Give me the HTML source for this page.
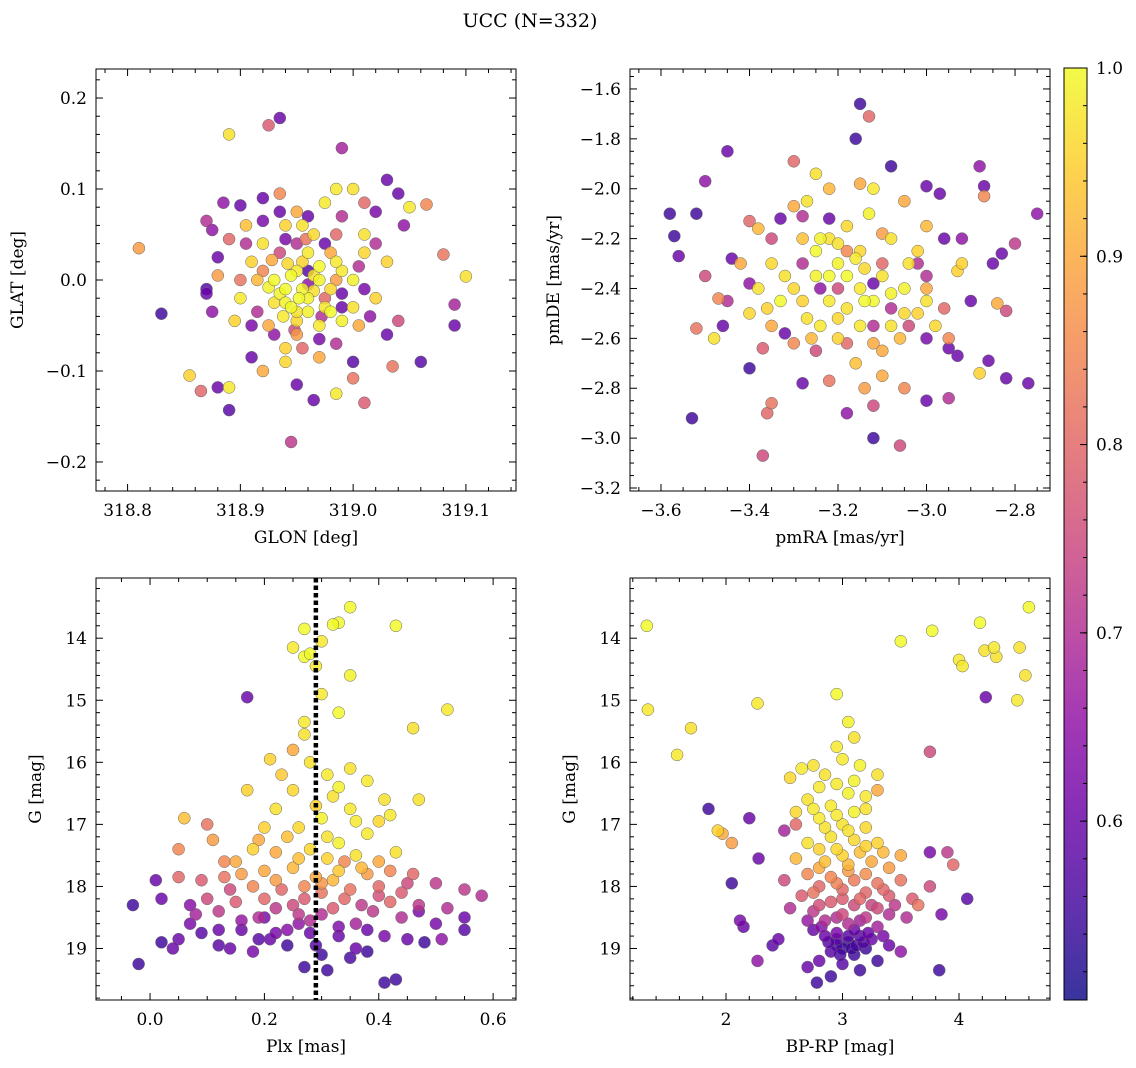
<!DOCTYPE html>
<html><head><meta charset="utf-8">
<style>
html,body{margin:0;padding:0;background:#fff;}
svg{display:block;font-family:"DejaVu Serif","Liberation Serif",serif;}
</style></head>
<body>
<svg id="fig" width="1136" height="1068" viewBox="0 0 1136 1068" xmlns="http://www.w3.org/2000/svg">
<text x="530" y="27" text-anchor="middle" font-size="19">UCC (N=332)</text>
</svg>
<script>
// ---- data: [x, y, membership probability] ----
const p1Points=[[318.81,0.035,0.88],[318.83,-0.037,0.55],[318.89,0.16,0.97],[318.925,0.17,0.78],[318.935,0.178,0.6],[318.99,0.145,0.68],[318.945,-0.178,0.72],[318.89,-0.143,0.58],[318.865,-0.122,0.8],[318.855,-0.105,0.95],[318.88,-0.118,0.6],[318.89,-0.118,0.98],[318.965,-0.132,0.6],[318.985,-0.125,0.98],[319.01,-0.135,0.78],[319.0,-0.108,0.82],[319.0,-0.09,0.58],[319.06,-0.09,0.58],[319.1,0.004,0.97],[319.09,-0.027,0.68],[319.09,-0.05,0.6],[319.08,0.028,0.82],[319.065,0.083,0.85],[319.04,0.095,0.6],[319.03,0.11,0.6],[319.05,0.08,0.98],[319.045,0.06,0.65],[318.87,0.065,0.7],[318.88,0.025,0.6],[318.87,-0.01,0.58],[318.87,-0.015,0.6],[318.875,-0.035,0.65],[318.875,0.055,0.65],[318.885,0.085,0.65],[318.9,0.082,0.6],[318.92,0.09,0.6],[318.935,0.095,0.85],[318.95,0.075,0.9],[318.96,0.07,0.6],[318.985,0.1,0.98],[319.0,0.1,0.97],[319.01,0.085,0.8],[319.02,0.075,0.62],[318.975,0.085,0.98],[318.91,-0.085,0.6],[318.92,-0.1,0.9],[318.95,-0.115,0.6],[318.94,-0.09,0.96],[318.97,-0.085,0.9],[318.985,-0.07,0.7],[319.03,-0.06,0.6],[319.035,-0.095,0.82],[319.04,-0.045,0.75],[319.02,-0.02,0.95],[319.03,0.02,0.95],[319.02,0.04,0.7],
[318.915,-0.035,0.7],[318.955,-0.075,0.8],[318.96,-0.005,0.65],[318.99,-0.015,0.6],[318.94,0.045,0.62],[319.005,0.015,0.7],[318.92,0.01,0.85],[318.95,-0.06,0.88],[318.975,-0.02,0.8],[318.985,0.05,0.8],[318.935,0.03,0.75],[318.9,0.0,0.82],
[318.93,0.0,1],[318.94,-0.01,1],[318.95,0.01,0.98],[318.96,-0.02,0.99],[318.945,-0.03,1],[318.93,-0.025,0.97],[318.955,0.02,0.95],[318.96,0.03,0.98],[318.97,0.0,0.99],[318.98,-0.01,0.96],[318.99,0.01,0.98],[319.0,-0.03,0.97],[318.99,-0.045,0.99],[318.97,-0.05,0.98],[318.95,-0.045,0.96],[318.92,0.04,0.97],[318.91,0.02,0.95],[318.9,-0.02,0.98],[318.905,0.06,0.93],[318.94,0.06,0.95],[318.965,0.05,0.96],[319.01,0.05,0.97],[319.01,0.03,0.96],[319.0,0.0,0.99],[318.98,0.03,0.9],[318.925,-0.05,0.9],[318.97,0.015,1],[318.945,0.005,1],[318.935,-0.015,0.99],[318.96,-0.035,0.99],[318.98,-0.035,1]];
const p1Extra=[[318.925,-0.008,0.99],[318.938,-0.04,0.98],[318.952,-0.02,1],[318.965,-0.012,0.97],[318.975,-0.03,0.98],[318.942,0.018,0.96],[318.928,0.022,0.9],[318.958,0.045,0.82],[318.948,-0.055,0.75],[318.972,-0.04,0.7],[318.985,0.0,0.88],[318.915,0.0,0.92],[318.93,-0.06,0.65],[318.91,-0.05,0.62],[318.96,0.01,0.58],[318.99,-0.03,0.6],[319.01,-0.01,0.62],[318.905,0.04,0.7],[318.92,0.065,0.62],[318.89,0.045,0.8],[318.895,-0.045,0.95],[318.88,0.005,0.88],[318.95,0.04,0.7],[318.975,0.04,0.6],[319.005,-0.05,0.9],[319.015,-0.04,0.65],[318.94,-0.075,0.95],[318.97,-0.065,0.62],[318.955,0.06,0.97],[318.99,0.07,0.7],[318.935,0.075,0.6],[318.955,-0.01,0.99],[318.965,0.005,0.97],[318.985,0.02,0.98],[318.94,-0.025,0.99],[318.95,-0.035,0.97]];
const p2Points=[[-3.58,-2.1,0.55],[-3.57,-2.19,0.55],[-3.52,-2.1,0.55],[-3.56,-2.27,0.6],[-3.5,-1.97,0.65],[-3.45,-1.85,0.6],[-3.5,-2.35,0.75],[-3.52,-2.56,0.82],[-3.53,-2.92,0.55],[-3.48,-2.6,0.97],[-3.46,-2.55,0.6],[-3.47,-2.44,0.85],[-3.4,-2.72,0.55],[-3.37,-2.64,0.78],[-3.36,-2.9,0.8],[-3.35,-2.86,0.82],[-3.37,-3.07,0.75],[-3.3,-1.89,0.8],[-3.25,-1.94,0.97],[-3.15,-1.66,0.55],[-3.13,-1.71,0.8],[-3.16,-1.8,0.55],[-3.08,-1.91,0.55],[-3.12,-3.0,0.55],[-3.06,-3.03,0.75],[-3.12,-2.87,0.75],[-3.18,-2.9,0.65],[-3.28,-2.78,0.6],[-3.22,-2.77,0.82],[-3.0,-2.85,0.6],[-2.95,-2.84,0.7],[-2.88,-2.74,0.95],[-2.86,-2.69,0.6],[-2.82,-2.76,0.6],[-2.77,-2.78,0.6],[-2.82,-2.49,0.75],[-2.84,-2.46,0.9],[-2.85,-2.3,0.6],[-2.83,-2.26,0.6],[-2.8,-2.22,0.72],[-2.75,-2.1,0.65],[-2.87,-1.99,0.6],[-2.88,-1.91,0.65],[-2.87,-2.03,0.85],[-2.97,-2.02,0.6],[-3.0,-1.99,0.6],[-2.95,-2.64,0.6],[-2.93,-2.67,0.6],[-2.93,-2.33,0.95],[-2.92,-2.2,0.65],[-2.96,-2.2,0.6],[-3.02,-2.3,0.7],[-3.04,-2.55,0.75],[-3.44,-2.28,0.6],[-3.42,-2.3,0.9],[-3.4,-2.13,0.8],[-3.38,-2.16,0.92],[-3.33,-2.12,0.6],[-3.3,-2.07,0.9],[-3.28,-2.11,0.7],[-3.27,-2.05,0.97],
[-3.18,-2.25,0.85],[-3.1,-2.3,0.8],[-3.2,-2.4,0.75],[-3.28,-2.3,0.7],[-3.0,-2.35,0.7],[-3.12,-2.55,0.7],[-3.25,-2.65,0.75],[-2.95,-2.6,0.85],[-2.9,-2.45,0.6],[-3.4,-2.38,0.65],[-3.45,-2.45,0.7],
[-3.25,-2.25,1],[-3.2,-2.3,0.99],[-3.18,-2.35,1],[-3.15,-2.4,0.98],[-3.12,-2.45,1],[-3.1,-2.35,0.97],[-3.22,-2.45,0.98],[-3.27,-2.52,0.97],[-3.3,-2.4,0.96],[-3.05,-2.4,0.99],[-3.05,-2.5,0.96],[-3.08,-2.55,0.97],[-3.15,-2.55,0.98],[-3.2,-2.6,0.95],[-3.1,-2.65,0.9],[-3.0,-2.45,0.97],[-2.98,-2.55,0.96],[-3.02,-2.25,0.95],[-3.08,-2.2,0.97],[-3.13,-2.1,0.99],[-3.18,-2.15,0.96],[-3.22,-2.2,0.97],[-3.25,-2.35,0.99],[-3.35,-2.3,0.96],[-3.38,-2.4,0.97],[-3.4,-2.5,0.96],[-3.35,-2.55,0.9],[-3.3,-2.62,0.85],[-3.16,-2.7,0.93],[-3.1,-2.75,0.9],[-3.05,-2.8,0.85],[-3.15,-1.98,0.9],[-3.22,-2.0,0.92],[-3.12,-2.0,0.98],[-3.05,-2.05,0.9],[-3.0,-2.15,0.92],[-2.92,-2.3,0.95],[-3.33,-2.45,1],[-3.14,-2.45,1]];
const p2Extra=[[-3.24,-2.2,0.99],[-3.2,-2.22,0.97],[-3.16,-2.28,0.98],[-3.22,-2.35,1],[-3.14,-2.32,0.96],[-3.08,-2.42,0.99],[-3.18,-2.48,0.97],[-3.24,-2.55,0.98],[-3.28,-2.45,0.95],[-3.32,-2.35,0.97],[-3.02,-2.5,0.95],[-3.06,-2.6,0.92],[-3.12,-2.62,0.9],[-3.2,-2.52,0.96],[-3.26,-2.6,0.92],[-3.36,-2.48,0.95],[-3.28,-2.2,0.93],[-3.1,-2.18,0.88],[-3.15,-2.25,0.96],[-3.04,-2.3,0.97],[-3.0,-2.4,0.9],[-2.96,-2.48,0.8],[-3.35,-2.2,0.75],[-3.18,-2.62,0.8],[-3.08,-2.48,0.7],[-3.24,-2.4,0.65],[-3.12,-2.38,0.6],[-3.32,-2.58,0.6],[-3.0,-2.6,0.62],[-3.14,-2.8,0.88],[-3.22,-2.12,0.6]];
const p3Points=[[-0.03,18.3,0.55],[-0.02,19.25,0.55],[0.01,17.9,0.6],[0.02,18.2,0.6],[0.02,18.9,0.55],[0.05,18.85,0.6],[0.07,18.6,0.62],[0.09,18.75,0.58],[0.12,18.95,0.58],[0.16,18.7,0.6],[0.18,19.05,0.62],[0.21,18.85,0.6],[0.24,18.95,0.55],[0.27,19.3,0.55],[0.3,19.1,0.55],[0.31,19.35,0.55],[0.33,18.8,0.6],[0.36,19.0,0.6],[0.38,19.05,0.55],[0.41,19.55,0.55],[0.43,19.5,0.55],[0.45,18.85,0.6],[0.48,18.9,0.55],[0.51,18.85,0.65],[0.55,18.7,0.58],[0.55,18.5,0.6],[0.17,14.95,0.6],[0.22,18.75,0.62],[0.28,18.75,0.6],[0.38,18.7,0.6],[0.14,19.0,0.6],[0.04,19.0,0.6],[0.47,18.4,0.62],[0.26,18.6,0.65],[0.2,18.5,0.62],
[0.05,17.85,0.8],[0.09,17.9,0.78],[0.13,17.85,0.82],[0.18,18.0,0.85],[0.22,17.9,0.88],[0.27,18.0,0.85],[0.3,17.95,0.87],[0.35,18.05,0.82],[0.4,18.0,0.8],[0.45,17.95,0.75],[0.5,17.95,0.72],[0.55,18.05,0.72],[0.58,18.15,0.7],[0.1,18.2,0.75],[0.15,18.25,0.78],[0.2,18.2,0.8],[0.25,18.3,0.75],[0.32,18.35,0.78],[0.37,18.3,0.72],[0.42,18.25,0.8],[0.47,18.3,0.72],[0.52,18.35,0.7],[0.12,18.4,0.72],[0.19,18.5,0.7],[0.28,18.55,0.7],[0.36,18.6,0.68],[0.44,18.5,0.7],[0.08,18.45,0.68],[0.3,18.1,0.82],[0.26,18.45,0.72],[0.34,17.6,0.85],[0.14,18.05,0.75],[0.4,18.15,0.76],
[0.27,13.85,1],[0.33,13.75,1],[0.35,13.5,1],[0.43,13.8,1],[0.32,13.78,1],[0.3,14.05,0.98],[0.27,14.3,1],[0.28,14.25,1],[0.29,14.45,0.98],[0.25,14.15,0.98],[0.35,14.6,0.99],[0.3,14.9,0.98],[0.33,15.2,1],[0.52,15.15,0.98],[0.46,15.45,0.97],[0.27,15.35,0.98],[0.27,15.55,0.97],[0.25,15.8,0.9],[0.21,15.95,0.95],[0.28,16.0,0.97],[0.31,16.2,0.98],[0.35,16.1,0.97],[0.38,16.3,0.98],[0.33,16.4,0.99],[0.41,16.6,0.97],[0.25,16.45,0.96],[0.17,16.45,0.95],[0.22,16.75,0.97],[0.29,16.7,0.95],[0.35,16.75,0.98],[0.42,16.85,0.98],[0.47,16.6,0.97],[0.3,16.9,0.99],[0.36,16.95,0.98],[0.26,17.05,0.96],[0.2,17.05,0.95],[0.24,17.2,0.93],[0.31,17.2,0.97],[0.38,17.15,0.98],[0.33,17.3,0.99],[0.43,17.45,0.97],[0.36,17.5,0.97],[0.28,17.4,0.96],[0.22,17.45,0.9],[0.15,17.6,0.9],[0.18,17.4,0.95],[0.11,17.25,0.88],[0.06,16.9,0.93],[0.05,17.4,0.85],[0.1,17.0,0.82],[0.4,17.6,0.9],[0.46,17.8,0.8],[0.25,17.7,0.92],[0.33,17.75,0.94],[0.38,17.8,0.88]];
const p3Extra=[[0.16,17.8,0.88],[0.2,17.75,0.9],[0.23,18.05,0.8],[0.29,17.85,0.9],[0.32,17.9,0.92],[0.37,17.7,0.92],[0.42,17.75,0.85],[0.27,18.2,0.78],[0.34,18.2,0.8],[0.22,18.35,0.72],[0.3,18.45,0.7],[0.39,18.4,0.72],[0.16,18.55,0.66],[0.24,18.7,0.64],[0.33,18.65,0.63],[0.41,18.8,0.62],[0.12,18.7,0.6],[0.19,18.85,0.58],[0.29,18.95,0.58],[0.35,19.15,0.56],[0.07,18.3,0.64],[0.5,18.6,0.62],[0.31,17.55,0.95],[0.26,17.55,0.93],[0.19,17.25,0.9],[0.4,16.95,0.96],[0.32,16.55,0.97],[0.23,16.2,0.94],[0.13,17.6,0.85],[0.44,18.1,0.78]];
const p4Points=[[1.85,16.75,0.55],[2.05,17.95,0.55],[2.2,16.9,0.6],[2.28,17.55,0.6],[2.12,18.55,0.62],[2.15,18.65,0.6],[2.27,19.2,0.65],[2.4,18.95,0.58],[2.45,18.85,0.6],[2.5,17.1,0.68],[2.75,18.7,0.6],[2.85,18.8,0.6],[2.95,18.85,0.58],[3.05,18.9,0.55],[3.15,18.8,0.58],[3.25,18.85,0.6],[3.0,19.0,0.55],[2.9,19.05,0.58],[3.1,19.1,0.55],[3.2,19.0,0.55],[2.8,19.2,0.6],[3.0,19.25,0.58],[3.3,19.2,0.55],[2.7,19.3,0.6],[3.15,19.35,0.55],[2.9,19.45,0.55],[2.78,19.55,0.55],[3.75,17.45,0.62],[3.85,18.45,0.62],[4.07,18.2,0.58],[3.83,19.35,0.55],[3.5,19.05,0.65],[3.4,18.95,0.6],[2.95,18.75,0.62],[3.1,18.7,0.6],
[2.7,17.8,0.85],[2.9,17.85,0.85],[3.1,17.9,0.83],[3.3,17.95,0.82],[3.5,17.9,0.82],[2.8,18.0,0.8],[3.0,18.05,0.8],[3.2,18.1,0.8],[3.4,18.15,0.78],[2.65,18.15,0.78],[2.9,18.25,0.78],[3.1,18.3,0.75],[3.3,18.35,0.75],[3.6,18.2,0.78],[3.65,18.3,0.82],[3.9,17.45,0.72],[3.95,17.65,0.8],[3.75,18.0,0.75],[2.75,18.4,0.72],[3.0,18.45,0.75],[3.2,18.5,0.72],[3.4,18.45,0.7],[2.55,18.35,0.7],[2.85,18.55,0.7],[3.05,18.6,0.7],[3.3,18.65,0.68],[2.5,17.9,0.75],[3.55,18.5,0.7],
[1.32,13.8,1],[1.33,15.15,0.98],[1.58,15.88,0.98],[1.7,15.45,0.97],[2.27,15.05,0.98],[3.5,14.05,1],[3.77,13.88,1],[4.18,13.75,1],[4.6,13.5,1],[4.0,14.35,0.98],[4.03,14.45,0.98],[4.22,14.2,0.97],[4.3,14.15,0.98],[4.32,14.3,0.97],[4.52,14.15,0.97],[4.57,14.6,0.97],[4.5,15.0,0.98],[4.23,14.95,0.6],[3.75,15.83,0.75],[2.95,14.9,1],[3.05,15.35,0.99],[2.95,15.75,0.98],[3.1,15.6,0.97],[3.0,15.95,0.98],[2.85,16.2,0.97],[2.65,16.1,0.98],[2.55,16.25,0.96],[2.75,16.05,0.97],[3.15,16.05,0.99],[3.3,16.2,0.97],[2.8,16.4,0.98],[3.05,16.5,0.99],[3.2,16.55,0.98],[2.7,16.6,0.97],[2.9,16.7,0.98],[3.1,16.8,0.99],[3.3,16.45,0.9],[2.6,16.8,0.96],[2.8,16.9,0.98],[3.0,17.0,0.97],[3.2,17.05,0.96],[2.9,17.2,0.97],[3.1,17.25,0.96],[2.7,17.3,0.97],[3.3,17.3,0.95],[2.95,17.4,0.96],[3.15,17.45,0.93],[3.5,17.5,0.9],[2.85,17.6,0.93],[3.05,17.65,0.92],[3.25,17.6,0.9],[2.6,17.55,0.92],[3.4,17.7,0.88],[1.93,17.1,0.95],[1.97,17.15,0.9],[2.05,17.3,0.88],[2.6,17.0,0.8]];
const p4Extra=[[2.95,18.95,0.56],[3.05,18.8,0.58],[3.12,18.95,0.56],[2.88,18.9,0.58],[3.18,18.9,0.57],[3.08,19.0,0.55],[2.98,19.1,0.56],[3.22,18.75,0.6],[2.82,18.65,0.64],[3.35,18.8,0.62],[2.7,18.55,0.66],[3.15,18.55,0.68],[2.95,18.5,0.7],[3.25,18.3,0.74],[3.45,18.3,0.72],[2.8,18.3,0.76],[3.0,18.2,0.78],[3.15,18.2,0.8],[3.35,18.05,0.8],[2.75,18.1,0.82],[2.95,17.95,0.84],[3.2,17.8,0.86],[3.05,17.75,0.88],[2.8,17.7,0.9],[3.35,17.45,0.92],[3.0,17.5,0.95],[2.8,17.4,0.95],[3.2,17.35,0.95],[2.85,17.05,0.97],[3.05,17.1,0.97],[2.95,16.85,0.98],[3.2,16.75,0.97],[2.75,16.75,0.98],[2.95,16.35,0.98],[3.1,16.3,0.99]];
const plxLine=[0.29];
const cbarTicks=[0.6,0.7,0.8,0.9,1.0];
const cbarRange=[0.505,1.0];

const NS="http://www.w3.org/2000/svg";
const svg=document.getElementById('fig');
function el(tag,attrs,parent){const e=document.createElementNS(NS,tag);for(const k in attrs)e.setAttribute(k,attrs[k]);(parent||svg).appendChild(e);return e;}
const stops=[[0,'#0d0887'],[0.1,'#41049d'],[0.2,'#6a00a8'],[0.3,'#8f0da4'],[0.4,'#b12a90'],[0.5,'#cc4778'],[0.6,'#e16462'],[0.7,'#f2844b'],[0.8,'#fca636'],[0.9,'#fcce25'],[1,'#f0f921']];
function hx(c){return [1,3,5].map(i=>parseInt(c.substr(i,2),16));}
function plasma(t){t=Math.max(0,Math.min(1,t));for(let i=1;i<stops.length;i++){if(t<=stops[i][0]){const a=stops[i-1],b=stops[i];const f=(t-a[0])/(b[0]-a[0]);const ca=hx(a[1]),cb=hx(b[1]);return 'rgb('+ca.map((v,j)=>Math.round(v+(cb[j]-v)*f)).join(',')+')';}}return stops[stops.length-1][1];}
function fmt(v,d){const s=Math.abs(v).toFixed(d);return (v<-1e-9?'\u2212':'')+s;}

function panel(name,cfg,pts){
  const {x0,x1,y0,y1,xmin,xmax,ymin,ymax,xmaj,xmin_step,ymaj,ymin_step,xd,yd,xlabel,ylabel,invert}=cfg;
  const g=el('g',{});
  
  
  const sx=v=>x0+(v-xmin)/(xmax-xmin)*(x1-x0);
  const sy=invert?(v=>y0+(v-ymin)/(ymax-ymin)*(y1-y0)):(v=>y1-(v-ymin)/(ymax-ymin)*(y1-y0));
  const pg=el('g',{},g);
  pts.slice().sort((a,b)=>a[2]-b[2]).forEach(p=>{
    const c=el('circle',{cx:sx(p[0]).toFixed(1),cy:sy(p[1]).toFixed(1),r:6,fill:plasma((p[2]-cbarRange[0])/(cbarRange[1]-cbarRange[0])),'fill-opacity':0.82,stroke:'#666','stroke-width':0.5},pg);
    
    
  });
  if(cfg.vline!==undefined){
    const l=el('line',{x1:sx(cfg.vline),x2:sx(cfg.vline),y1:y0,y2:y1,stroke:'#000','stroke-width':4.5,'stroke-dasharray':'4.5,3'},g);
    
    
  }
  const fr=el('rect',{x:x0,y:y0,width:x1-x0,height:y1-y0,fill:'none',stroke:'#000','stroke-width':1},g);
  
  
  const tk=el('g',{stroke:'#000','stroke-width':1},g);
  const lo=Math.ceil(Math.min(xmin,xmax)/xmin_step-1e-6),hi=Math.floor(Math.max(xmin,xmax)/xmin_step+1e-6);
  for(let i=lo;i<=hi;i++){const v=i*xmin_step;const isMaj=Math.abs(v/xmaj-Math.round(v/xmaj))<1e-6;const L=isMaj?7:4;const X=sx(v);
    el('line',{x1:X,x2:X,y1:y1,y2:y1-L},tk);el('line',{x1:X,x2:X,y1:y0,y2:y0+L},tk);
    if(isMaj){const t=el('text',{x:X,y:y1+25,'text-anchor':'middle','font-size':17,stroke:'none'},g);t.textContent=fmt(v,xd);}}
  const ylo=Math.ceil(ymin/ymin_step-1e-6),yhi=Math.floor(ymax/ymin_step+1e-6);
  for(let i=ylo;i<=yhi;i++){const v=i*ymin_step;if(v<ymin||v>ymax)continue;const isMaj=Math.abs(v/ymaj-Math.round(v/ymaj))<1e-6;const L=isMaj?7:4;const Y=sy(v);
    el('line',{x1:x0,x2:x0+L,y1:Y,y2:Y},tk);el('line',{x1:x1,x2:x1-L,y1:Y,y2:Y},tk);
    if(isMaj){const t=el('text',{x:x0-9,y:Y+6,'text-anchor':'end','font-size':17,stroke:'none'},g);t.textContent=fmt(v,yd);}}
  const xl=el('text',{x:(x0+x1)/2,y:y1+52,'text-anchor':'middle','font-size':17},g);xl.textContent=xlabel;
  
  
  const yl=el('text',{x:cfg.ylx,y:(y0+y1)/2,'text-anchor':'middle','font-size':17,transform:'rotate(-90 '+cfg.ylx+' '+(y0+y1)/2+')'},g);yl.textContent=ylabel;
  
  
}
panel('glon-glat-panel',{x0:96,x1:516,y0:69,y1:491,xmin:318.772,xmax:319.1444,ymin:-0.2319,ymax:0.2319,xmaj:0.1,xmin_step:0.02,ymaj:0.1,ymin_step:0.02,xd:1,yd:1,xlabel:'GLON [deg]',ylabel:'GLAT [deg]',ylx:23},p1Points.concat(p1Extra));
panel('pm-panel',{x0:630,x1:1050,y0:69,y1:491,xmin:-3.670,xmax:-2.721,ymin:-3.212,ymax:-1.52,xmaj:0.2,xmin_step:0.05,ymaj:0.2,ymin_step:0.05,xd:1,yd:1,xlabel:'pmRA [mas/yr]',ylabel:'pmDE [mas/yr]',ylx:559},p2Points.concat(p2Extra));
panel('plx-g-panel',{x0:96,x1:516,y0:578,y1:1000,xmin:-0.0945,xmax:0.640,ymin:13.03,ymax:19.83,xmaj:0.2,xmin_step:0.05,ymaj:1,ymin_step:0.2,xd:1,yd:0,xlabel:'Plx [mas]',ylabel:'G [mag]',ylx:41,invert:true,vline:plxLine[0]},p3Points.concat(p3Extra));
panel('cmd-panel',{x0:630,x1:1050,y0:578,y1:1000,xmin:1.176,xmax:4.781,ymin:13.03,ymax:19.83,xmaj:1,xmin_step:0.2,ymaj:1,ymin_step:0.2,xd:0,yd:0,xlabel:'BP-RP [mag]',ylabel:'G [mag]',ylx:575,invert:true},p4Points.concat(p4Extra));

// colorbar
const cb=el('g',{});


const defs=el('defs',{},cb);
const lg=el('linearGradient',{id:'pl',x1:0,y1:1,x2:0,y2:0},defs);
stops.forEach(s=>el('stop',{offset:s[0],'stop-color':s[1]},lg));
const cx0=1064,cx1=1087,cy0=68,cy1=1000;
el('rect',{x:cx0,y:cy0,width:cx1-cx0,height:cy1-cy0,fill:'url(#pl)','fill-opacity':0.82},cb);
el('rect',{x:cx0,y:cy0,width:cx1-cx0,height:cy1-cy0,fill:'none',stroke:'#000','stroke-width':1},cb);
const cy=v=>cy1-(v-cbarRange[0])/(cbarRange[1]-cbarRange[0])*(cy1-cy0);
for(let i=26;i<=50;i++){const v=i*0.02;if(v<cbarRange[0]||v>cbarRange[1]+1e-9)continue;const Y=cy(v);el('line',{x1:cx1,x2:cx1-4,y1:Y,y2:Y,stroke:'#000'},cb);}
cbarTicks.forEach(v=>{const Y=cy(v);el('line',{x1:cx1,x2:cx1-7,y1:Y,y2:Y,stroke:'#000'},cb);
  const t=el('text',{x:1096,y:Y+6,'font-size':17},cb);t.textContent=v.toFixed(1);
  
  });
</script>
</body></html>
